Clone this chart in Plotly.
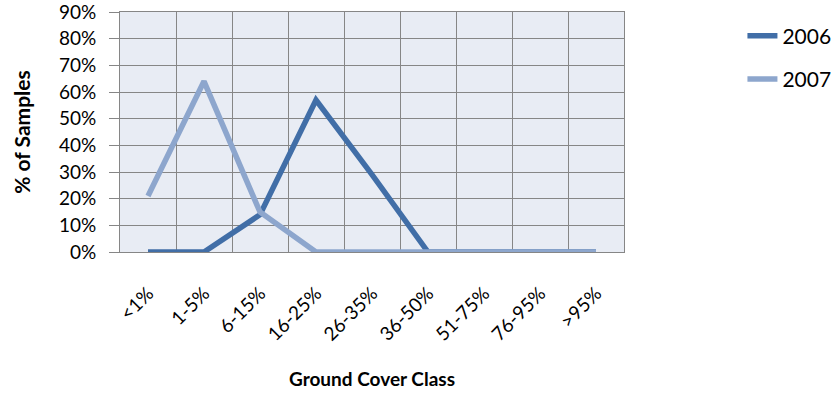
import plotly.graph_objects as go

# Ground cover class distribution by year
classes = ["<1%", "1-5%", "6-15%", "16-25%", "26-35%", "36-50%", "51-75%", "76-95%", ">95%"]
pct_2006 = [0.00, 0.00, 0.14, 0.57, 0.29, 0.00, 0.00, 0.00, 0.00]
pct_2007 = [0.21, 0.64, 0.15, 0.00, 0.00, 0.00, 0.00, 0.00, 0.00]

FONT = "Lato, 'Liberation Sans', sans-serif"
GRID = "#868686"

fig = go.Figure()
fig.add_trace(go.Scatter(
    x=classes, y=pct_2006, mode="lines", name="2006",
    line=dict(color="#416EA7", width=5.5), legendgroup="a",
))
fig.add_trace(go.Scatter(
    x=classes, y=pct_2007, mode="lines", name="2007",
    line=dict(color="#8DA6CD", width=5.5), legendgroup="b",
))

fig.update_layout(
    width=839, height=398,
    margin=dict(l=120, r=215, t=12, b=146, autoexpand=False),
    paper_bgcolor="white",
    plot_bgcolor="#E8ECF4",
    font=dict(family=FONT, size=16, color="black"),
    showlegend=True,
    legend=dict(
        x=1.235, y=0.985, xanchor="left", yanchor="top",
        font=dict(size=21), tracegroupgap=13,
        bgcolor="rgba(0,0,0,0)",
    ),
    xaxis=dict(
        type="category",
        range=[-0.5, 8.5],
        tickson="boundaries",
        showgrid=True, gridcolor=GRID, gridwidth=1,
        showline=True, linecolor=GRID, linewidth=1, mirror=True,
        ticks="", tickangle=-45,
        ticklabelstandoff=22,
        ticklabeloverflow="allow",
        tickfont=dict(size=19),
        title=dict(text="<b>Ground Cover Class</b>", font=dict(size=19), standoff=28),
    ),
    yaxis=dict(
        range=[0, 0.9], dtick=0.1, tickformat=".0%",
        showgrid=True, gridcolor=GRID, gridwidth=1,
        showline=True, linecolor=GRID, linewidth=1, mirror=True,
        ticks="outside", ticklen=10, tickcolor=GRID,
        ticklabelstandoff=9,
        ticklabeloverflow="allow",
        tickfont=dict(size=19),
        zeroline=False,
        title=dict(text="<b>% of Samples</b>", font=dict(size=21), standoff=22),
    ),
)

fig.write_html("out.html")
